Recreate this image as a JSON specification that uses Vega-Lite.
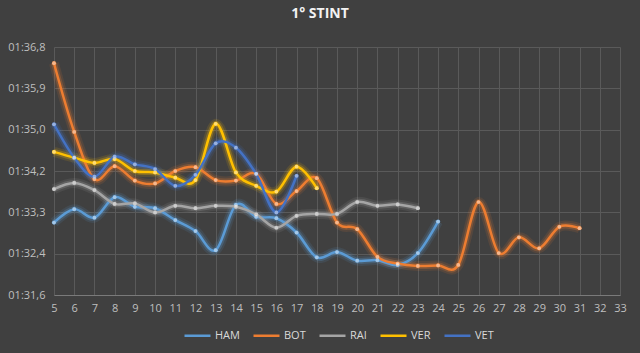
{
  "$schema": "https://vega.github.io/schema/vega-lite/v6.json",
  "autosize": {"type": "none"},
  "width": 566,
  "height": 248,
  "padding": {"left": 54, "top": 47, "right": 20, "bottom": 58},
  "background": "#404040",
  "title": {"text": "1° STINT", "fontSize": 14, "fontWeight": "bold", "color": "#F2F2F2", "font": "Open Sans", "offset": 20, "anchor": "middle", "dx": -17},
  "config": {
    "view": {"stroke": null},
    "font": "Open Sans",
    "axis": {"labelFont": "Open Sans", "labelColor": "#BFBFBF", "labelFontSize": 11, "gridColor": "#5A5A5A", "gridWidth": 1, "ticks": false, "title": null, "labelFlush": false}
  },
  "data": {"values": [
    {"lap": 5, "driver": "HAM", "t": 93.12}, {"lap": 6, "driver": "HAM", "t": 93.40}, {"lap": 7, "driver": "HAM", "t": 93.22}, {"lap": 8, "driver": "HAM", "t": 93.65}, {"lap": 9, "driver": "HAM", "t": 93.45}, {"lap": 10, "driver": "HAM", "t": 93.42}, {"lap": 11, "driver": "HAM", "t": 93.17}, {"lap": 12, "driver": "HAM", "t": 92.94}, {"lap": 13, "driver": "HAM", "t": 92.54}, {"lap": 14, "driver": "HAM", "t": 93.49}, {"lap": 15, "driver": "HAM", "t": 93.24}, {"lap": 16, "driver": "HAM", "t": 93.21}, {"lap": 17, "driver": "HAM", "t": 92.91}, {"lap": 18, "driver": "HAM", "t": 92.39}, {"lap": 19, "driver": "HAM", "t": 92.50}, {"lap": 20, "driver": "HAM", "t": 92.32}, {"lap": 21, "driver": "HAM", "t": 92.33}, {"lap": 22, "driver": "HAM", "t": 92.23}, {"lap": 23, "driver": "HAM", "t": 92.48}, {"lap": 24, "driver": "HAM", "t": 93.14},
    {"lap": 5, "driver": "BOT", "t": 96.46}, {"lap": 6, "driver": "BOT", "t": 95.02}, {"lap": 7, "driver": "BOT", "t": 94.03}, {"lap": 8, "driver": "BOT", "t": 94.30}, {"lap": 9, "driver": "BOT", "t": 94.00}, {"lap": 10, "driver": "BOT", "t": 93.94}, {"lap": 11, "driver": "BOT", "t": 94.20}, {"lap": 12, "driver": "BOT", "t": 94.28}, {"lap": 13, "driver": "BOT", "t": 94.01}, {"lap": 14, "driver": "BOT", "t": 94.00}, {"lap": 15, "driver": "BOT", "t": 94.14}, {"lap": 16, "driver": "BOT", "t": 93.51}, {"lap": 17, "driver": "BOT", "t": 93.78}, {"lap": 18, "driver": "BOT", "t": 94.05}, {"lap": 19, "driver": "BOT", "t": 93.12}, {"lap": 20, "driver": "BOT", "t": 92.98}, {"lap": 21, "driver": "BOT", "t": 92.40}, {"lap": 22, "driver": "BOT", "t": 92.26}, {"lap": 23, "driver": "BOT", "t": 92.21}, {"lap": 24, "driver": "BOT", "t": 92.22}, {"lap": 25, "driver": "BOT", "t": 92.23}, {"lap": 26, "driver": "BOT", "t": 93.55}, {"lap": 27, "driver": "BOT", "t": 92.48}, {"lap": 28, "driver": "BOT", "t": 92.81}, {"lap": 29, "driver": "BOT", "t": 92.58}, {"lap": 30, "driver": "BOT", "t": 93.03}, {"lap": 31, "driver": "BOT", "t": 93.00},
    {"lap": 5, "driver": "RAI", "t": 93.82}, {"lap": 6, "driver": "RAI", "t": 93.95}, {"lap": 7, "driver": "RAI", "t": 93.80}, {"lap": 8, "driver": "RAI", "t": 93.51}, {"lap": 9, "driver": "RAI", "t": 93.52}, {"lap": 10, "driver": "RAI", "t": 93.33}, {"lap": 11, "driver": "RAI", "t": 93.47}, {"lap": 12, "driver": "RAI", "t": 93.42}, {"lap": 13, "driver": "RAI", "t": 93.47}, {"lap": 14, "driver": "RAI", "t": 93.45}, {"lap": 15, "driver": "RAI", "t": 93.29}, {"lap": 16, "driver": "RAI", "t": 93.01}, {"lap": 17, "driver": "RAI", "t": 93.26}, {"lap": 18, "driver": "RAI", "t": 93.30}, {"lap": 19, "driver": "RAI", "t": 93.30}, {"lap": 20, "driver": "RAI", "t": 93.55}, {"lap": 21, "driver": "RAI", "t": 93.47}, {"lap": 22, "driver": "RAI", "t": 93.50}, {"lap": 23, "driver": "RAI", "t": 93.42},
    {"lap": 5, "driver": "VER", "t": 94.60}, {"lap": 6, "driver": "VER", "t": 94.48}, {"lap": 7, "driver": "VER", "t": 94.37}, {"lap": 8, "driver": "VER", "t": 94.45}, {"lap": 9, "driver": "VER", "t": 94.20}, {"lap": 10, "driver": "VER", "t": 94.17}, {"lap": 11, "driver": "VER", "t": 94.06}, {"lap": 12, "driver": "VER", "t": 94.01}, {"lap": 13, "driver": "VER", "t": 95.19}, {"lap": 14, "driver": "VER", "t": 94.17}, {"lap": 15, "driver": "VER", "t": 93.89}, {"lap": 16, "driver": "VER", "t": 93.77}, {"lap": 17, "driver": "VER", "t": 94.29}, {"lap": 18, "driver": "VER", "t": 93.84},
    {"lap": 5, "driver": "VET", "t": 95.18}, {"lap": 6, "driver": "VET", "t": 94.48}, {"lap": 7, "driver": "VET", "t": 94.08}, {"lap": 8, "driver": "VET", "t": 94.50}, {"lap": 9, "driver": "VET", "t": 94.34}, {"lap": 10, "driver": "VET", "t": 94.24}, {"lap": 11, "driver": "VET", "t": 93.89}, {"lap": 12, "driver": "VET", "t": 94.12}, {"lap": 13, "driver": "VET", "t": 94.78}, {"lap": 14, "driver": "VET", "t": 94.69}, {"lap": 15, "driver": "VET", "t": 94.14}, {"lap": 16, "driver": "VET", "t": 93.33}, {"lap": 17, "driver": "VET", "t": 94.10}
  ]},
  "encoding": {
    "x": {"field": "lap", "type": "quantitative", "scale": {"domain": [5, 33], "nice": false, "zero": false},
      "axis": {"values": [5,6,7,8,9,10,11,12,13,14,15,16,17,18,19,20,21,22,23,24,25,26,27,28,29,30,31,32,33], "format": "d", "labelPadding": 7, "domainColor": "#7A7A7A", "domainWidth": 1, "grid": true, "labelOverlap": false}},
    "y": {"field": "t", "type": "quantitative", "scale": {"domain": [91.6, 96.8], "nice": false, "zero": false},
      "axis": {"values": [91.6, 92.46667, 93.33333, 94.2, 95.06667, 95.93333, 96.8], "labelExpr": "'01:' + replace(format(floor(datum.value*10+0.0001)/10 - 60, '.1f'), '.', ',')", "labelPadding": 9, "domain": false, "grid": true}},
    "color": {"field": "driver", "type": "nominal",
      "scale": {"domain": ["HAM", "BOT", "RAI", "VER", "VET"], "range": ["#5B9BD5", "#ED7D31", "#A5A5A5", "#FFC000", "#4472C4"]},
      "legend": {"orient": "none", "legendX": 129, "legendY": 274, "direction": "horizontal", "symbolType": "stroke", "symbolSize": 676, "symbolStrokeWidth": 2.5, "symbolOpacity": 1, "labelColor": "#D9D9D9", "labelFontSize": 11, "labelFont": "Open Sans", "title": null, "columnPadding": 8, "labelOffset": 3}}
  },
  "layer": [
    {"mark": {"type": "line", "interpolate": "cardinal", "strokeWidth": 10, "opacity": 0.12}},
    {"mark": {"type": "line", "interpolate": "cardinal", "strokeWidth": 6, "opacity": 0.25}},
    {"mark": {"type": "line", "interpolate": "cardinal", "strokeWidth": 2.5}},
    {"mark": {"type": "circle", "size": 18, "opacity": 1}},
    {"mark": {"type": "circle", "size": 14, "opacity": 0.45}, "encoding": {"color": {"value": "white"}}}
  ]
}
